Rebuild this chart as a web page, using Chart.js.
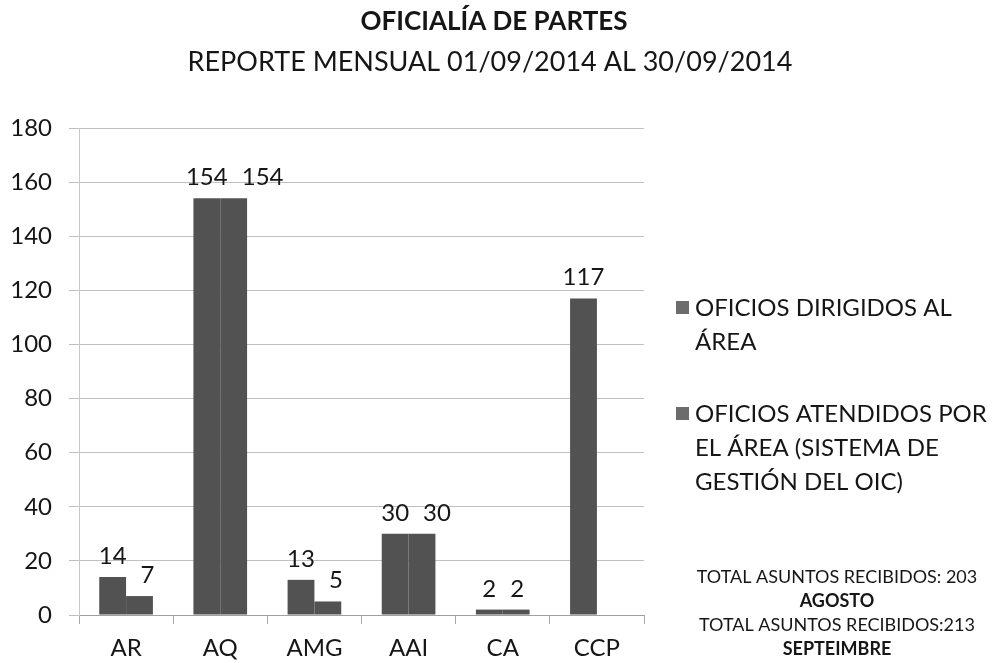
<!DOCTYPE html>
<html>
<head>
<meta charset="utf-8">
<script src="https://cdn.jsdelivr.net/npm/chart.js@4/dist/chart.umd.min.js"></script>
<style>
  body { margin: 0; background: #fff; }
</style>
</head>
<body>
<canvas id="oficialia-chart" width="995" height="663"></canvas>
<script>
// Oficialía de partes, reporte mensual septiembre 2014
const categories = ["AR", "AQ", "AMG", "AAI", "CA", "CCP"];
const dirigidos = [14, 154, 13, 30, 2, 117];
const atendidos = [7, 154, 5, 30, 2, null];   // CCP sin dato
const yTicks = [0, 20, 40, 60, 80, 100, 120, 140, 160, 180];
const seriesNames = [
    ["OFICIOS DIRIGIDOS AL", "ÁREA"],
    ["OFICIOS ATENDIDOS POR", "EL ÁREA (SISTEMA DE", "GESTIÓN DEL OIC)"]
];
const titleText = "OFICIALÍA DE PARTES";
const subtitleText = "REPORTE MENSUAL 01/09/2014 AL 30/09/2014";
const notes = [
    ["TOTAL ASUNTOS RECIBIDOS: 203", false],
    ["AGOSTO", true],
    ["TOTAL ASUNTOS RECIBIDOS:213", false],
    ["SEPTEIMBRE", true]
];

const FONT = "Lato, 'Open Sans', sans-serif";
const INK = "#161616";
const barColor = "#525252";

// value labels above the bars, titles, side legend and totals
const extras = {
    id: "extras",
    afterDatasetsDraw(chart) {
        const ctx = chart.ctx;
        ctx.save();
        ctx.fillStyle = INK;
        ctx.font = "24px " + FONT;
        ctx.textAlign = "center";
        ctx.textBaseline = "alphabetic";
        categories.forEach((c, j) => {
            let prevRight = -Infinity;
            chart.data.datasets.forEach((ds, i) => {
                const v = ds.data[j];
                if (v == null) return;
                const bar = chart.getDatasetMeta(i).data[j];
                const txt = String(v);
                const w = ctx.measureText(txt).width;
                let x = bar.x;
                // keep neighbouring labels from running into each other
                if (x - w / 2 < prevRight + 14) x = prevRight + 14 + w / 2;
                ctx.fillText(txt, x, bar.y - 13);
                prevRight = x + w / 2;
            });
        });
        ctx.restore();
    },
    afterDraw(chart) {
        const ctx = chart.ctx;
        ctx.save();
        ctx.fillStyle = INK;
        ctx.textAlign = "center";
        ctx.textBaseline = "middle";
        ctx.font = "bold 26px " + FONT;
        ctx.fillText(titleText, 494, 22);
        ctx.font = "27px " + FONT;
        ctx.fillText(subtitleText, 490, 62);

        // legend
        ctx.textAlign = "left";
        ctx.font = "24px " + FONT;
        let y = 308;
        seriesNames.forEach((lines) => {
            ctx.fillStyle = "#6c6c6c";
            ctx.fillRect(676, y - 7, 13, 13);
            ctx.fillStyle = INK;
            lines.forEach((t, k) => ctx.fillText(t, 695, y + k * 34));
            y += 106;
        });

        // totals
        ctx.textAlign = "center";
        notes.forEach(([t, bold], k) => {
            ctx.font = (bold ? "bold " : "") + "18px " + FONT;
            ctx.fillText(t, 837, 577 + k * 24);
        });
        ctx.restore();
    }
};

new Chart("oficialia-chart", {
    type: "bar",
    data: {
        labels: categories,
        datasets: [
            {
                label: seriesNames[0].join(" "),
                data: dirigidos,
                backgroundColor: barColor,
                categoryPercentage: 0.57,
                barPercentage: 1.0
            },
            {
                label: seriesNames[1].join(" "),
                data: atendidos,
                backgroundColor: barColor,
                categoryPercentage: 0.57,
                barPercentage: 1.0
            }
        ]
    },
    options: {
        responsive: false,
        animation: false,
        layout: { padding: { top: 128, right: 351, bottom: 0, left: 8 } },
        plugins: {
            legend: { display: false },
            tooltip: { enabled: false }
        },
        scales: {
            x: {
                offset: true,
                grid: {
                    offset: true,
                    drawOnChartArea: false,
                    tickLength: 9,
                    color: "#a8a8a8"
                },
                border: { color: "#a0a0a0" },
                ticks: {
                    color: INK,
                    font: { family: FONT, size: 24 },
                    padding: 10
                },
                afterFit(scale) { scale.height = 48; }
            },
            y: {
                min: 0,
                max: 180,
                afterBuildTicks(scale) {
                    scale.ticks = yTicks.map(v => ({ value: v }));
                },
                grid: { color: "#c0c0c0", tickLength: 10 },
                border: { color: "#c8c8c8" },
                ticks: {
                    color: INK,
                    font: { family: FONT, size: 24 },
                    padding: 17
                },
                afterFit(scale) { scale.width = 71; }
            }
        }
    },
    plugins: [extras]
});
</script>
</body>
</html>
